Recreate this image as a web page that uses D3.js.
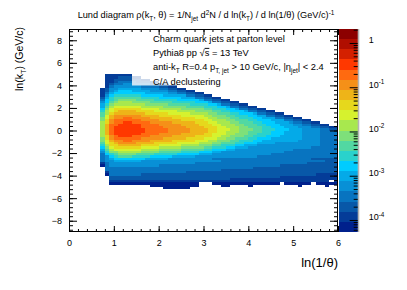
<!DOCTYPE html>
<html>
<head>
<meta charset="utf-8">
<script src="https://cdnjs.cloudflare.com/ajax/libs/d3/7.8.5/d3.min.js"></script>
<style>
  body { margin: 0; background: #fff; }
  svg { display: block; font-family: "Liberation Sans", Arial, sans-serif; }
</style>
</head>
<body>
<svg id="chart" width="407" height="290"></svg>
<script>
// Histogram binning (x: ln(1/theta), y: ln(kT))
const xBinStart = 0.7;
const xBinWidth = 0.1;
const yBinWidth = 0.2;
const firstRowLow = 4.8; // lower edge of the first row below

// z range of the colour axis and the 20 contour colours (bottom -> top)
const zMin = 5.35e-5;
const zMax = 2.07;
const palette = ["#00208c", "#043c98", "#0858a8", "#0874c0", "#0890d6",
  "#04aae8", "#00ccff", "#2ad2cc", "#52d8a2", "#7ee07a",
  "#a8e84e", "#d6f22e", "#e6d81c", "#eeb418", "#f59018",
  "#ff6a10", "#ff3800", "#d42000", "#b00e00", "#8c0000"];

// Contour level of each cell, one row per y bin (top row first).
// Runs "level:count" going right from x = 0.7 ; levels 0-9 then a-j = 10-19, "." = empty
const levelRows = [
  ".:1 1:6",
  ".:1 1:3 2:3 1:2",
  ".:1 1:2 2:6 1:2",
  ".:1 1:2 2:1 3:4 2:3 1:2",
  ".:1 1:1 2:1 3:2 4:2 3:4 2:2 1:2",
  ".:1 1:1 3:1 4:6 3:4 2:2 1:2",
  "1:1 2:1 4:2 5:5 4:4 3:2 2:2 1:2",
  "1:1 2:1 4:1 5:1 6:3 5:4 4:4 3:2 2:2 1:2",
  "1:1 3:1 5:1 6:7 5:5 4:2 3:2 2:2 1:2",
  "1:1 4:1 6:1 7:6 6:5 5:5 3:2 2:2 1:2",
  "2:1 5:1 7:1 8:6 7:4 6:5 5:3 3:2 2:2 1:2",
  "3:1 6:1 7:1 8:1 9:4 8:4 7:5 6:5 5:1 3:2 2:2 1:2",
  "4:1 6:1 8:1 9:1 a:3 9:4 8:5 7:5 6:3 5:1 3:2 2:2 1:2",
  "5:1 7:1 9:1 a:7 9:5 8:5 7:4 6:2 5:1 3:2 2:2 1:2",
  "5:1 8:1 a:1 b:6 a:5 9:5 8:4 7:3 6:2 5:1 3:2 2:2 1:2",
  "6:1 9:1 b:1 c:6 b:4 a:5 9:5 8:2 7:3 6:2 5:1 3:2 2:2 1:2",
  "7:1 a:1 b:1 c:1 d:4 c:4 b:5 a:4 9:4 8:2 7:2 6:3 5:1 3:2 2:2 1:2",
  "8:1 a:1 c:1 d:7 c:5 b:5 a:4 9:2 8:3 7:2 6:3 5:1 3:2 2:2 1:2",
  "8:1 b:1 d:1 e:6 d:4 c:5 b:5 a:2 9:3 8:2 7:3 6:2 5:2 3:2 2:2 1:2",
  "9:1 b:1 d:1 e:2 f:2 e:4 d:5 c:5 b:3 a:2 9:3 8:2 7:3 6:2 5:3 3:2 2:2 1:2",
  "9:1 c:1 e:1 f:6 e:4 d:5 c:5 b:2 a:3 9:2 8:3 7:2 6:3 5:3 3:2 2:2 1:2",
  "a:1 c:1 e:1 f:2 g:2 f:4 e:5 d:5 c:3 b:2 a:3 9:2 8:3 7:2 6:3 5:3 4:1 3:2 2:2 1:2",
  "a:1 d:1 f:2 g:5 f:4 e:5 d:4 c:3 b:2 a:3 9:2 8:3 7:2 6:3 5:3 4:2 3:2 2:2 1:2",
  "a:1 d:1 f:1 g:6 f:5 e:5 d:4 c:3 b:2 a:3 9:2 8:3 7:2 6:3 5:3 4:3 3:2 2:2 1:2",
  "a:1 d:1 f:1 g:7 f:5 e:5 d:4 c:2 b:3 a:2 9:3 8:2 7:3 6:3 5:3 4:4 3:2 2:2",
  "a:1 d:1 f:1 g:7 f:5 e:5 d:4 c:2 b:2 a:3 9:2 8:3 7:2 6:3 5:4 4:4 3:4",
  "a:1 d:1 f:1 g:6 f:4 e:5 d:5 c:2 b:3 a:2 9:3 8:2 7:3 6:3 5:4 4:4 3:4",
  "a:1 c:1 e:1 f:1 g:3 f:4 e:5 d:5 c:4 b:2 a:2 9:3 8:2 7:3 6:3 5:5 4:4 3:4",
  "9:1 c:1 e:1 f:6 e:5 d:5 c:4 b:3 a:2 9:2 8:3 7:2 6:3 5:7 4:4 3:4",
  "9:1 b:1 d:1 e:2 f:2 e:4 d:5 c:5 b:3 a:2 9:3 8:2 7:3 6:2 5:8 4:5 3:4",
  "8:1 b:1 c:1 d:1 e:4 d:4 c:5 b:5 a:3 9:2 8:3 7:2 6:3 5:4 4:10 3:4",
  "7:1 a:1 c:2 d:5 c:4 b:5 a:4 9:3 8:2 7:3 6:2 5:3 4:14 3:4",
  "6:1 9:1 b:1 c:6 b:4 a:5 9:5 8:2 7:3 6:2 5:3 4:14 3:6",
  "5:1 8:1 a:1 b:6 a:4 9:5 8:5 7:2 6:3 5:2 4:13 3:10",
  "4:1 7:1 9:2 a:5 9:4 8:5 7:4 6:3 5:2 4:14 3:12",
  "3:1 6:1 7:1 8:1 9:4 8:4 7:5 6:5 5:3 4:13 3:15",
  "3:1 4:1 6:1 7:1 8:3 7:4 6:5 5:5 4:14 3:18",
  "3:1 4:1 5:1 6:7 5:5 4:10 3:22 2:6",
  "3:1 4:2 5:6 4:18 3:23 2:3",
  "1:1 3:1 4:19 3:25 2:7",
  "0:1 3:1 4:11 3:27 2:13",
  ".:1 3:33 2:19",
  ".:1 3:26 2:26",
  ".:1 1:1 3:17 2:34",
  ".:1 0:1 3:7 2:39 1:5",
  ".:2 2:38 1:13",
  ".:2 2:27 1:24",
  ".:2 1:49 .:1 1:1",
  ".:2 0:20 .:3 0:15 .:1 0:6 .:1 0:5",
  ".:11 0:11 .:5 0:2 .:4 0:1 .:10 0:1 .:5 0:1",
  ".:14 0:6"
];

const xTickValues = [0, 1, 2, 3, 4, 5, 6];
const yTickValues = [-8, -6, -4, -2, 0, 2, 4, 6, 8];
const zTickValues = [1e-4, 1e-3, 1e-2, 1e-1, 1];

const infoLines = [
  [["Charm quark jets at parton level"]],
  [["Pythia8 pp "], ["√"], ["s", "over"], [" = 13 TeV"]],
  [["anti-k"], ["T", "sub"], [" R=0.4 p"], ["T, jet", "sub"], [" > 10 GeV/c, |η"], ["jet", "sub"], ["| < 2.4"]],
  [["C/A declustering"]]
];

// ---------------------------------------------------------------
const svg = d3.select("#chart");
const frame = { left: 69, right: 338, top: 29, bottom: 232 };

const x = d3.scaleLinear().domain([0, 6]).range([frame.left, frame.right]);
const y = d3.scaleLinear().domain([-9, 9]).range([frame.bottom, frame.top]);
const z = d3.scaleLog().domain([zMin, zMax]).range([frame.bottom, frame.top]);

const logLo = Math.log10(zMin), logHi = Math.log10(zMax);
const step = (logHi - logLo) / palette.length;
const color = d3.scaleQuantize().domain([logLo, logHi]).range(palette);

const levelOf = (ch) => (ch >= "0" && ch <= "9") ? +ch : ch.charCodeAt(0) - 87;

// cells
const cells = [];
levelRows.forEach((row, i) => {
  const yLow = firstRowLow - i * yBinWidth;
  let c = 0;
  row.split(" ").forEach((tok) => {
    const [lv, n] = tok.split(":");
    for (let k = 0; k < +n; k++, c++) {
      if (lv === ".") continue;
      const val = Math.pow(10, logLo + (levelOf(lv) + 0.5) * step);
      cells.push({ x0: xBinStart + c * xBinWidth, y0: yLow, z: val });
    }
  });
});

svg.append("g")
  .attr("shape-rendering", "crispEdges")
  .selectAll("rect")
  .data(cells)
  .join("rect")
  .attr("x", (d) => x(d.x0))
  .attr("y", (d) => y(d.y0 + yBinWidth))
  .attr("width", (d) => x(d.x0 + xBinWidth) - x(d.x0))
  .attr("height", (d) => y(d.y0) - y(d.y0 + yBinWidth))
  .attr("fill", (d) => color(Math.log10(d.z)));

// semi transparent info box
svg.append("rect")
  .attr("x", 132).attr("y", frame.top + 0.5)
  .attr("width", 204).attr("height", 56)
  .attr("fill", "#fff").attr("fill-opacity", 0.8);

// rich text helper (sub / sup)
function rich(textSel, parts, size) {
  let off = 0;
  parts.forEach(([t, kind]) => {
    let target = 0, fs = size;
    if (kind === "sub") { target = 0.3 * size; fs = 0.7 * size; }
    if (kind === "sup") { target = -0.4 * size; fs = 0.7 * size; }
    const ts = textSel.append("tspan")
      .attr("dy", target - off)
      .attr("font-size", fs)
      .text(t);
    if (kind === "over") ts.style("text-decoration", "overline");
    off = target;
  });
}

infoLines.forEach((parts, i) => {
  const t = svg.append("text")
    .attr("x", 153)
    .attr("y", 41.6 + i * 14.3)
    .attr("font-size", 9.3)
    .attr("fill", "#000");
  rich(t, parts, 9.3);
});

// axes
function styleAxis(g) {
  g.select(".domain").remove();
  g.selectAll("line").attr("stroke", "#000");
  g.selectAll("text").attr("font-family", null).attr("font-size", 9).attr("fill", "#000");
}
const xMinor = d3.range(0, 6.001, 0.2);
const yMinorAll = d3.range(-8.8, 8.801, 0.4).map((v) => +v.toFixed(2));

svg.append("g").attr("transform", `translate(0,${frame.bottom})`)
  .call(d3.axisBottom(x).tickValues(xTickValues).tickSize(-6).tickPadding(8).tickFormat(d3.format("d")))
  .call(styleAxis);
svg.append("g").attr("transform", `translate(0,${frame.bottom})`)
  .call(d3.axisBottom(x).tickValues(xMinor).tickSize(-3).tickFormat(""))
  .call(styleAxis);
svg.append("g").attr("transform", `translate(0,${frame.top})`)
  .call(d3.axisTop(x).tickValues(xTickValues).tickSize(-6).tickFormat(""))
  .call(styleAxis);
svg.append("g").attr("transform", `translate(0,${frame.top})`)
  .call(d3.axisTop(x).tickValues(xMinor).tickSize(-3).tickFormat(""))
  .call(styleAxis);

svg.append("g").attr("transform", `translate(${frame.left},0)`)
  .call(d3.axisLeft(y).tickValues(yTickValues).tickSize(-8).tickPadding(7).tickFormat((d) => d < 0 ? "−" + Math.abs(d) : d))
  .call(styleAxis);
svg.append("g").attr("transform", `translate(${frame.left},0)`)
  .call(d3.axisLeft(y).tickValues(yMinorAll).tickSize(-4).tickFormat(""))
  .call(styleAxis);
svg.append("g").attr("transform", `translate(${frame.right},0)`)
  .call(d3.axisRight(y).tickValues(yTickValues).tickSize(-8).tickFormat(""))
  .call(styleAxis);
svg.append("g").attr("transform", `translate(${frame.right},0)`)
  .call(d3.axisRight(y).tickValues(yMinorAll).tickSize(-4).tickFormat(""))
  .call(styleAxis);

svg.append("rect")
  .attr("x", frame.left + 0.5).attr("y", frame.top + 0.5)
  .attr("width", frame.right - frame.left - 1).attr("height", frame.bottom - frame.top - 1)
  .attr("fill", "none").attr("stroke", "#000").attr("stroke-width", 1);

// colour bar
const bar = { left: 339.3, right: 357.7 };
const levels = d3.range(palette.length + 1).map((i) => Math.pow(10, logLo + i * step));
svg.append("g").attr("shape-rendering", "crispEdges")
  .selectAll("rect")
  .data(d3.range(palette.length))
  .join("rect")
  .attr("x", bar.left)
  .attr("y", (i) => z(levels[i + 1]))
  .attr("width", bar.right - bar.left)
  .attr("height", (i) => z(levels[i]) - z(levels[i + 1]))
  .attr("fill", (i) => color(logLo + (i + 0.5) * step));

svg.append("line")
  .attr("x1", bar.right + 0.8).attr("x2", bar.right + 0.8)
  .attr("y1", frame.top).attr("y2", frame.bottom)
  .attr("stroke", "#b4b4b4").attr("stroke-width", 1.6);

const zMinor = [];
for (let e = -5; e <= 0; e++) for (let m = 2; m <= 9; m++) {
  const v = m * Math.pow(10, e);
  if (v > zMin && v < zMax) zMinor.push(v);
}
svg.append("g").attr("transform", `translate(${bar.right},0)`)
  .call(d3.axisRight(z).tickValues(zMinor).tickSize(-4).tickFormat(""))
  .call(styleAxis);
const zAxis = svg.append("g").attr("transform", `translate(${bar.right},0)`)
  .call(d3.axisRight(z).tickValues(zTickValues).tickSize(-8).tickPadding(11).tickFormat(""))
  .call(styleAxis);
zAxis.selectAll(".tick").each(function (d) {
  const e = Math.round(Math.log10(d));
  const t = d3.select(this).append("text")
    .attr("x", 11).attr("dy", "0.32em")
    .attr("font-size", 9).attr("fill", "#000");
  if (e === 0) rich(t, [["1"]], 9);
  else rich(t, [["10"], ["-" + Math.abs(e), "sup"]], 9);
});

// titles
const title = svg.append("text")
  .attr("x", 206).attr("y", 18.3)
  .attr("text-anchor", "middle")
  .attr("font-size", 9.2).attr("fill", "#000");
rich(title, [["Lund diagram ρ(k"], ["T", "sub"], [", θ) = 1/N"], ["jet", "sub"], [" d"], ["2", "sup"],
  ["N / d ln(k"], ["T", "sub"], [") / d ln(1/θ) (GeV/c)"], ["-1", "sup"]], 9.2);

const xt = svg.append("text")
  .attr("x", frame.right).attr("y", 267)
  .attr("text-anchor", "end")
  .attr("font-size", 13).attr("fill", "#000");
rich(xt, [["ln(1/θ)"]], 13);

const yt = svg.append("text")
  .attr("transform", "translate(23,27) rotate(-90)")
  .attr("text-anchor", "end")
  .attr("font-size", 10.5).attr("fill", "#000");
rich(yt, [["ln(k"], ["T", "sub"], [") (GeV/c)"]], 10.5);
</script>
</body>
</html>
